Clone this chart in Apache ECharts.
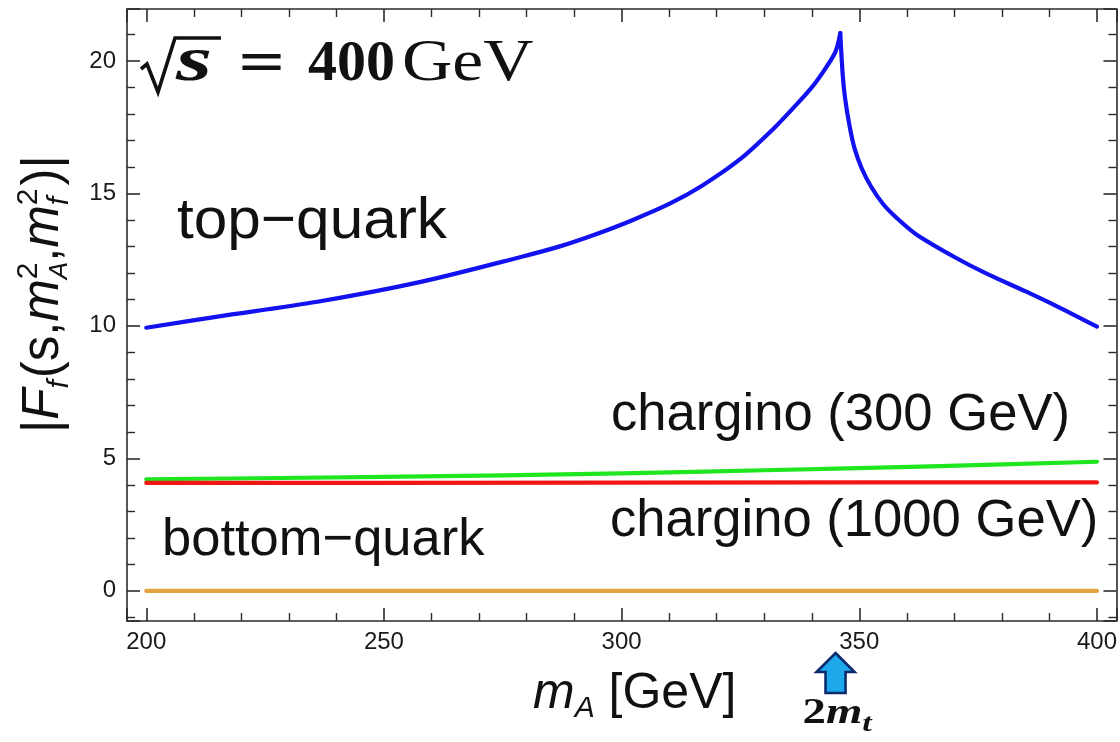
<!DOCTYPE html>
<html>
<head>
<meta charset="utf-8">
<script src="https://cdn.jsdelivr.net/npm/echarts@6/dist/echarts.min.js"></script>
<style>
  html, body { margin: 0; padding: 0; background: #fff; }
  #chart { width: 1120px; height: 742px; }
</style>
</head>
<body>
<div id="chart"></div>
<script>
// |F_f(s, m_A^2, m_f^2)| at sqrt(s) = 400 GeV as a function of m_A [GeV]

// top-quark loop (threshold cusp at m_A = 2 m_t)
const topMass  = [200, 215, 236, 258, 279, 287, 294, 302, 310, 317, 325, 332, 336, 340, 343, 345, 346,
                  346.5, 347, 348, 349, 350.5, 352.5, 355, 358, 362, 370, 377, 385, 392, 400];
const topValue = [9.93, 10.35, 10.91, 11.67, 12.61, 13.0, 13.42, 13.97, 14.6, 15.3, 16.3, 17.45, 18.2, 19.0, 19.75, 20.35, 21.05,
                  19.5, 18.6, 17.5, 16.7, 15.95, 15.25, 14.6, 14.05, 13.45, 12.6, 11.95, 11.3, 10.7, 9.97];

// chargino loop, 300 GeV
const chargino300Mass  = [200, 250, 300, 330, 365, 400];
const chargino300Value = [4.21, 4.30, 4.43, 4.55, 4.70, 4.87];

// chargino loop, 1000 GeV
const chargino1000Mass  = [200, 250, 300, 350, 400];
const chargino1000Value = [4.07, 4.07, 4.08, 4.09, 4.09];

// bottom-quark loop
const bottomMass  = [200, 300, 400];
const bottomValue = [0, 0, 0];

// threshold marker position (2 m_t)
const thresholdMass = 345;

const xRange = [195.95, 404.1];
const yRange = [-1.14, 21.96];

const SANS = '"Liberation Sans", Arial, sans-serif';
const SERIF = '"Liberation Serif", "Times New Roman", serif';
const INK = '#111';
const AXIS = '#2b2b2b';

function pairs(xs, ys) { return xs.map((x, i) => [x, ys[i]]); }

// the top-quark curve is drawn as two smooth branches meeting at the cusp
const peakIdx = topValue.indexOf(Math.max(...topValue));
const topRising = pairs(topMass.slice(0, peakIdx + 1), topValue.slice(0, peakIdx + 1));
const topFalling = pairs(topMass.slice(peakIdx), topValue.slice(peakIdx));

// ---- small text-layout helper for formulas (baseline at local y = 0) ----
const measureCtx = document.createElement('canvas').getContext('2d');
function fontOf(p) {
  return (p.italic ? 'italic ' : '') + (p.bold ? 'bold ' : '') + p.size + 'px ' + (p.family || SANS);
}
function widthOf(p) { measureCtx.font = fontOf(p); return measureCtx.measureText(p.text).width; }
function textAt(x, baseY, p) {
  return {
    type: 'text', x: x, y: baseY - 0.31 * p.size,
    scaleX: p.scaleX || 1, scaleY: 1,
    style: {
      text: p.text, font: fontOf(p), fill: p.color || INK,
      textAlign: 'left', verticalAlign: 'middle', textVerticalAlign: 'middle'
    }
  };
}
function formulaRow(pieces) {
  let x = 0, pending = 0;
  const out = [];
  pieces.forEach(p => {
    const w = widthOf(p) * (p.scaleX || 1);
    x += (p.kern || 0);
    out.push(textAt(x, p.dy || 0, p));
    if (p.stack) { pending = Math.max(pending, w); }
    else { x += Math.max(w, pending); pending = 0; }
  });
  return out;
}

const chart = echarts.init(document.getElementById('chart'), null, { renderer: 'canvas' });

function axisCommon(show) {
  return {
    type: 'value',
    axisLine: { show: true, onZero: false, lineStyle: { color: AXIS, width: 1.6 } },
    axisTick: { show: true, inside: true, length: 13, lineStyle: { color: AXIS, width: 1.6 } },
    minorTick: { show: true, splitNumber: 5, length: 8, lineStyle: { color: AXIS, width: 1.4 } },
    splitLine: { show: false },
    minorSplitLine: { show: false },
    axisLabel: { show: show, color: '#1a1a1a', fontFamily: SANS, fontSize: 24 }
  };
}

const xLabelFmt = v => (Math.abs(v / 50 - Math.round(v / 50)) < 1e-6 ? String(Math.round(v)) : '');
const yLabelFmt = v => (Math.abs(v / 5 - Math.round(v / 5)) < 1e-6 ? String(Math.round(v)) : '');

const lineSeries = (name, data, color, z, smooth) => ({
  name, type: 'line', data, xAxisIndex: 0, yAxisIndex: 0,
  showSymbol: false, symbol: 'none', smooth: smooth || false, z: z,
  lineStyle: { color, width: 4.2, cap: 'round', join: 'round' },
  emphasis: { disabled: true }, silent: true, animation: false
});

const option = {
  backgroundColor: '#ffffff',
  animation: false,
  grid: { left: 127, right: 3, top: 9, bottom: 121, containLabel: false },
  xAxis: [
    Object.assign(axisCommon(true), {
      position: 'bottom', min: xRange[0], max: xRange[1], minInterval: 50, maxInterval: 50,
      axisLabel: Object.assign(axisCommon(true).axisLabel, { margin: 9, formatter: xLabelFmt })
    }),
    Object.assign(axisCommon(false), {
      position: 'top', min: xRange[0], max: xRange[1], minInterval: 50, maxInterval: 50
    })
  ],
  yAxis: [
    Object.assign(axisCommon(true), {
      position: 'left', min: yRange[0], max: yRange[1], minInterval: 5, maxInterval: 5,
      axisLabel: Object.assign(axisCommon(true).axisLabel, { margin: 11, formatter: yLabelFmt })
    }),
    Object.assign(axisCommon(false), {
      position: 'right', min: yRange[0], max: yRange[1], minInterval: 5, maxInterval: 5
    })
  ],
  series: [
    lineSeries('top-quark', topRising, '#1212f0', 5, 0.3),
    lineSeries('top-quark ', topFalling, '#1212f0', 5, 0.3),
    lineSeries('chargino (300 GeV)', pairs(chargino300Mass, chargino300Value), '#1fe61f', 4, 0.3),
    lineSeries('chargino (1000 GeV)', pairs(chargino1000Mass, chargino1000Value), '#f01616', 5),
    lineSeries('bottom-quark', pairs(bottomMass, bottomValue), '#e2a23e', 5)
  ]
};
chart.setOption(option);

// ---- annotations: curve labels, axis titles, energy tag, threshold arrow ----
function label(text, left, baseline, size, scaleX) {
  return textAt(left, baseline, { text, size, family: SANS, scaleX });
}

const yTitle = {
  type: 'group', x: 60, y: 433, rotation: Math.PI / 2,
  children: formulaRow([
    { text: '|', size: 51 },
    { text: 'F', size: 51, italic: true },
    { text: 'f', size: 30, italic: true, dy: 9 },
    { text: '(s,', size: 51, kern: 2 },
    { text: 'm', size: 51, italic: true },
    { text: '2', size: 30, dy: -22, stack: true },
    { text: 'A', size: 26, italic: true, dy: 8 },
    { text: ',', size: 51 },
    { text: 'm', size: 51, italic: true },
    { text: '2', size: 30, dy: -22, stack: true },
    { text: 'f', size: 30, italic: true, dy: 9 },
    { text: ')|', size: 51, kern: 3 }
  ])
};

const xTitle = {
  type: 'group', x: 533, y: 710,
  children: formulaRow([
    { text: 'm', size: 50, italic: true },
    { text: 'A', size: 30, italic: true, dy: 8 },
    { text: ' [GeV]', size: 50 }
  ])
};

const energyTag = {
  type: 'group', x: 0, y: 0,
  children: [
    { type: 'polyline', shape: { points: [[141, 69], [147, 64], [158, 92], [175, 38], [221, 38]] },
      style: { stroke: INK, lineWidth: 3.6, fill: null, lineJoin: 'miter' } },
    { type: 'group', x: 176, y: 83, children: formulaRow([
      { text: 's', size: 64, italic: true, bold: true, family: SERIF, scaleX: 1.45 }
    ]) },
    { type: 'group', x: 236, y: 83, children: formulaRow([
      { text: '=', size: 58, family: '"DejaVu Serif", serif', scaleX: 1.05 }
    ]) },
    { type: 'group', x: 308, y: 83, children: formulaRow([
      { text: '400', size: 58, bold: true, family: SERIF }
    ]) },
    { type: 'group', x: 402, y: 83, children: formulaRow([
      { text: 'GeV', size: 59, family: SERIF, scaleX: 1.18 }
    ]) }
  ]
};

function drawAnnotations() {
  const ax = chart.convertToPixel({ xAxisIndex: 0 }, thresholdMass);
  const tipY = 653;
  const arrow = {
    type: 'polygon',
    shape: { points: [[ax, tipY], [ax + 19, tipY + 19], [ax + 10, tipY + 19], [ax + 10, tipY + 40],
                      [ax - 10, tipY + 40], [ax - 10, tipY + 19], [ax - 19, tipY + 19]] },
    style: { fill: '#1ea8ec', stroke: '#0b2b6e', lineWidth: 2.6, lineJoin: 'miter' },
    z: 10
  };
  const twoMt = {
    type: 'group', x: ax - 33, y: 725, scaleX: 1.3,
    children: formulaRow([
      { text: '2', size: 36, bold: true, family: SERIF },
      { text: 'm', size: 36, bold: true, italic: true, family: SERIF },
      { text: 't', size: 26, bold: true, italic: true, family: SERIF, dy: 7 }
    ])
  };
  chart.setOption({
    graphic: [
      energyTag,
      label('top\u2212quark', 177, 240, 58, 1.04),
      label('bottom\u2212quark', 162, 557, 52.5),
      label('chargino (300 GeV)', 611, 432, 52.6),
      label('chargino (1000 GeV)', 610, 538, 52.6),
      yTitle,
      xTitle,
      arrow,
      twoMt
    ]
  });
}
drawAnnotations();
</script>
</body>
</html>
